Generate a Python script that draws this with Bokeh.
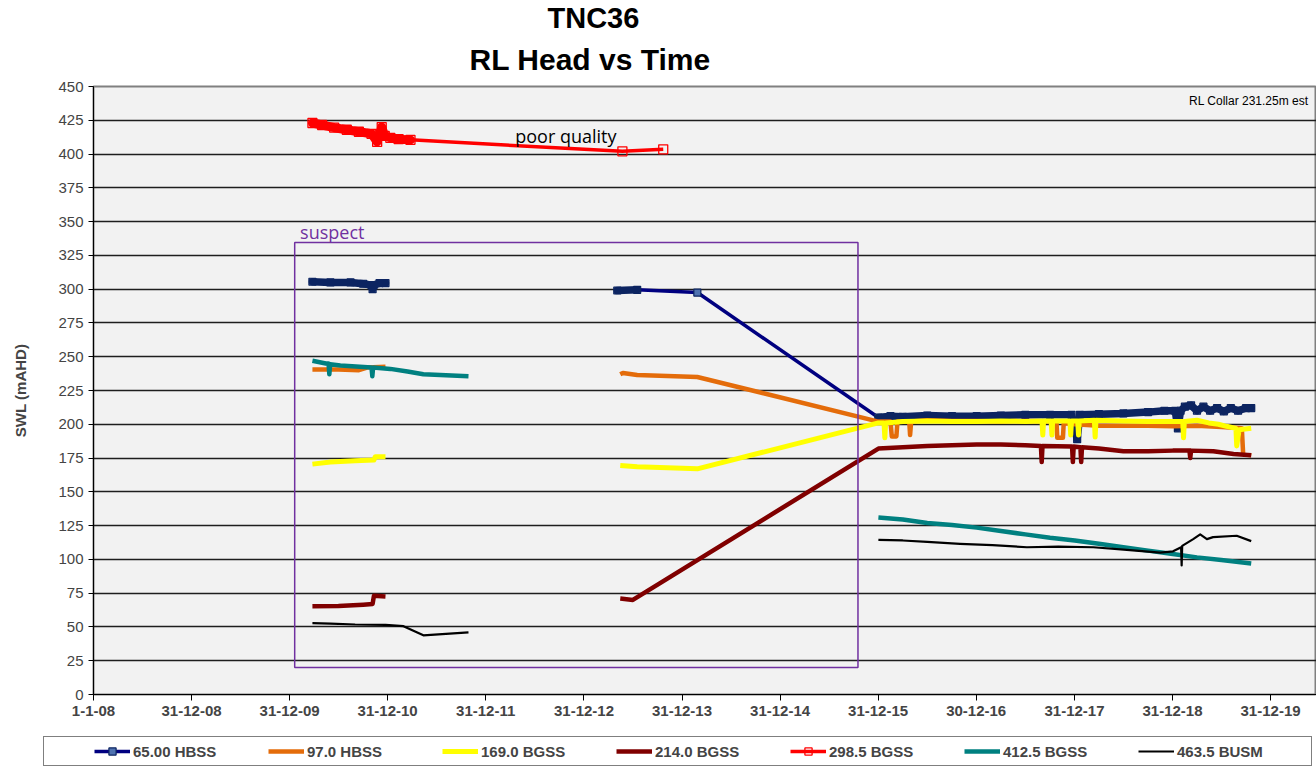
import numpy as np
import pandas as pd
from bokeh.plotting import figure
from bokeh.layouts import column
from bokeh.models import (Range1d, FixedTicker, Legend, LegendItem, Label,
                          BoxAnnotation, Title)
from bokeh.embed import file_html
from bokeh.resources import INLINE

ORIGIN = pd.Timestamp("2008-01-01")

# ---------------- data ----------------
tick_dates = ["2008-01-01", "2008-12-31", "2009-12-31", "2010-12-31", "2011-12-31",
              "2012-12-31", "2013-12-31", "2014-12-31", "2015-12-31", "2016-12-30",
              "2017-12-31", "2018-12-31", "2019-12-31"]
tick_labels = ["1-1-08", "31-12-08", "31-12-09", "31-12-10", "31-12-11", "31-12-12",
               "31-12-13", "31-12-14", "31-12-15", "30-12-16", "31-12-17", "31-12-18",
               "31-12-19"]

series_names = ["65.00 HBSS", "97.0 HBSS", "169.0 BGSS", "214.0 BGSS",
                "298.5 BGSS", "412.5 BGSS", "463.5 BUSM"]

# 65.00 HBSS
navy_2010_d = ["2010-03-26", "2010-06-01", "2010-08-15", "2010-10-01", "2010-11-01",
               "2010-11-05", "2010-11-09", "2010-12-01", "2010-12-23"]
navy_2010_v = [305.5, 305, 305, 304, 303, 300, 303, 304.5, 304.5]
navy_2013_d = ["2013-05-04", "2013-07-17", "2014-02-26"]
navy_2013_v = [299, 299.5, 297.5]
navy_2016_d = ["2016-01-01", "2016-02-15", "2016-04-01", "2016-07-01", "2016-10-01",
               "2017-01-01", "2017-04-01", "2017-07-01", "2017-10-01", "2017-12-20",
               "2018-01-10", "2018-01-20", "2018-04-01", "2018-07-01", "2018-10-01",
               "2018-12-01", "2019-01-10", "2019-01-20", "2019-01-30", "2019-02-15",
               "2019-03-10", "2019-04-01", "2019-04-25", "2019-05-20", "2019-06-15",
               "2019-07-10", "2019-08-05", "2019-09-01", "2019-10-01", "2019-10-20"]
navy_2016_v = [205, 206, 205.5, 206.5, 206, 206, 206.5, 207, 207, 207,
               189, 207, 207.5, 208, 209, 210, 210, 197, 210, 213,
               214, 210, 213, 210, 212, 209.5, 212, 210, 212, 212]

# 97.0 HBSS
orange_2010_d = ["2010-03-26", "2010-07-01", "2010-09-15", "2010-10-15", "2010-12-23"]
orange_2010_v = [240.5, 240.5, 240, 242, 242.5]
orange_2013_d = ["2013-05-15", "2013-05-25", "2013-07-17", "2014-02-26"]
orange_2013_v = [237, 238, 236.5, 235]
orange_2016_d = ["2016-01-01", "2016-02-15", "2016-02-20", "2016-03-08", "2016-03-12",
                 "2016-04-25", "2016-04-28", "2016-05-02", "2016-07-01", "2016-10-01",
                 "2017-01-01", "2017-04-01", "2017-07-01", "2017-10-25", "2017-10-28",
                 "2017-11-18", "2017-11-21", "2018-01-01", "2018-04-01", "2018-07-01",
                 "2018-10-01", "2019-01-01", "2019-04-01", "2019-07-01", "2019-09-15",
                 "2019-09-20", "2019-10-20"]
orange_2016_v = [202, 202, 191, 191, 202, 202, 192, 202, 203, 202.5,
                 202.5, 202, 202.5, 202, 190, 190, 201, 200, 199, 199,
                 199, 198.5, 199, 198, 197, 178, 177]

# 169.0 BGSS
yellow_2010_d = ["2010-03-26", "2010-06-01", "2010-09-01", "2010-11-10", "2010-11-15",
                 "2010-12-23"]
yellow_2010_v = [170.5, 172, 173, 173.5, 176, 176]
yellow_2013_d = ["2013-05-15", "2013-07-17", "2014-02-26"]
yellow_2013_v = [169.5, 168.5, 167]
yellow_2016_d = ["2016-01-01", "2016-01-22", "2016-01-25", "2016-01-28", "2016-04-01",
                 "2016-07-01", "2016-10-01", "2017-01-01", "2017-04-01", "2017-07-01",
                 "2017-09-01", "2017-09-04", "2017-09-07", "2017-10-05", "2017-10-08",
                 "2017-10-11", "2017-12-14", "2017-12-17", "2017-12-20", "2018-01-12",
                 "2018-01-15", "2018-01-18", "2018-03-15", "2018-03-18", "2018-03-21",
                 "2018-07-01", "2018-10-01", "2019-02-07", "2019-02-10", "2019-02-13",
                 "2019-04-01", "2019-05-15", "2019-06-20", "2019-07-20", "2019-08-24",
                 "2019-08-27", "2019-09-05", "2019-10-20"]
yellow_2016_v = [201, 201, 190, 201, 202, 202.5, 202, 202, 202.5, 202,
                 202.5, 192, 202.5, 202.5, 192, 202.5, 202.5, 192, 202.5, 202.5,
                 192, 202.5, 203, 190.5, 203, 202.5, 202, 202, 190, 202,
                 203, 201, 200, 198.5, 197, 184, 196, 197]

# 214.0 BGSS
dred_2010_d = ["2010-03-26", "2010-07-01", "2010-10-01", "2010-11-05", "2010-11-10",
               "2010-12-23"]
dred_2010_v = [65.3, 65.5, 66.5, 67, 73, 72.5]
dred_2013_d = ["2013-05-15", "2013-07-01"]
dred_2013_v = [71, 70]
dred_2016_d = ["2016-01-01", "2016-04-01", "2016-07-01", "2016-10-01", "2017-01-01",
               "2017-04-01", "2017-07-01", "2017-08-28", "2017-08-31", "2017-09-03",
               "2017-12-22", "2017-12-25", "2017-12-28", "2018-01-22", "2018-01-25",
               "2018-01-28", "2018-04-01", "2018-07-01", "2018-10-01", "2019-01-01",
               "2019-03-04", "2019-03-07", "2019-03-10", "2019-06-01", "2019-08-15",
               "2019-10-20"]
dred_2016_v = [182, 183, 184, 184.5, 185, 185, 184.5, 184, 172, 184,
               183.5, 172, 183.5, 183, 172, 183, 182, 180, 180, 180.5,
               180.5, 175, 180.5, 180, 178, 177]

# 298.5 BGSS
red_2010_d = ["2010-03-26", "2010-05-01", "2010-06-15", "2010-08-01", "2010-09-15",
              "2010-11-01", "2010-11-22", "2010-12-01", "2010-12-09", "2010-12-20",
              "2011-01-10", "2011-02-10", "2011-03-26"]
red_2010_v = [423, 421.5, 419.5, 418, 416.5, 415, 409, 414.5, 420, 413.5,
              412, 411, 410.5]
red_2013_d = ["2013-05-23", "2013-10-22"]
red_2013_v = [402, 403.5]

# 412.5 BGSS
teal_2010_d = ["2010-03-26", "2010-05-15", "2010-05-25", "2010-05-28", "2010-05-31",
               "2010-07-08", "2010-11-01", "2010-11-04", "2010-11-07", "2011-01-10",
               "2011-03-15", "2011-05-13", "2011-10-28"]
teal_2010_v = [247, 245, 245, 237, 244.5, 243.5, 242, 235.5, 242, 241,
               239, 237, 235.5]
teal_2016_d = ["2016-01-01", "2016-04-01", "2016-07-01", "2016-10-01", "2017-01-01",
               "2017-04-01", "2017-07-01", "2017-10-01", "2018-01-01", "2018-04-01",
               "2018-07-01", "2018-10-01", "2019-01-01", "2019-04-01", "2019-07-01",
               "2019-10-20"]
teal_2016_v = [131, 129.5, 127, 125.5, 123.5, 121, 118.5, 116, 114, 111.5,
               109, 106.5, 104, 101.5, 99.5, 97]

# 463.5 BUSM
black_2010_d = ["2010-03-26", "2010-06-01", "2010-09-01", "2010-12-23", "2011-02-28",
                "2011-05-13", "2011-10-28"]
black_2010_v = [52.8, 52.5, 51.8, 51.5, 50.6, 43.8, 46]
black_2016_d = ["2016-01-01", "2016-04-01", "2016-07-01", "2016-10-31", "2017-03-01",
                "2017-07-07", "2017-11-01", "2018-03-11", "2018-07-14", "2018-11-15",
                "2019-01-02", "2019-02-01", "2019-02-03", "2019-02-05", "2019-03-18",
                "2019-04-13", "2019-05-08", "2019-05-31", "2019-08-27", "2019-10-20"]
black_2016_v = [114.5, 114, 113, 111.5, 110.5, 109, 109.5, 109, 107, 105,
                106, 109, 95.5, 110, 115, 118.5, 115, 116.5, 117.5, 113.5]

annotation_collar = "RL Collar 231.25m est"
annotation_poor = "poor quality"
annotation_suspect = "suspect"
suspect_box_dates = ["2010-01-19", "2015-10-17"]
suspect_box_values = [20, 334.6]


# ---------------- helpers ----------------
def days(dates):
    return [float((pd.Timestamp(d) - ORIGIN).days) for d in dates]


def joined(*segments):
    """segments: list of (dates, values); consecutive segments separated by a NaN gap"""
    xs, ys = [], []
    for i, (d, v) in enumerate(segments):
        if i > 0:
            xs.append(np.nan)
            ys.append(np.nan)
        xs += days(d)
        ys += list(v)
    return xs, ys


FONT = "Liberation Sans"
NAVY = "#000080"
NAVY_DARK = "#0C2461"
X_END = 4553

STYLES = [
    dict(line_color=NAVY, line_width=3.5),
    dict(line_color="#E46C0A", line_width=4.5),
    dict(line_color="#FFFF00", line_width=5),
    dict(line_color="#800000", line_width=4.5),
    dict(line_color="#FF0000", line_width=3.5),
    dict(line_color="#008080", line_width=4.5),
    dict(line_color="black", line_width=2.2),
]
NAVY_MARK = dict(marker="square", size=7, fill_color="#4F72B0", line_color=NAVY_DARK,
                 line_width=1.2)
RED_MARK = dict(marker="square", size=9, fill_alpha=0, line_color="#FF0000",
                line_width=1.3)

p = figure(width=1316, height=730, output_backend="svg", toolbar_location=None,
           x_range=Range1d(0, X_END), y_range=Range1d(0, 450),
           min_border_left=93, min_border_right=0, min_border_top=86,
           min_border_bottom=36, background_fill_color="#F2F2F2",
           border_fill_color="white", outline_line_color="#808080",
           outline_line_width=2)
p.frame_align = False

# titles (p.title ends farthest from the frame)
p.title.text = "TNC36"
p.title.align = "left"
p.title.offset = 454
p.title.text_font = FONT
p.title.text_font_size = "29px"
p.title.text_font_style = "bold"
p.title.text_color = "black"
p.title.standoff = -9
t2 = Title(text="RL Head vs Time", align="left", offset=376, text_font=FONT,
           text_font_size="30px", text_font_style="bold", text_color="black",
           standoff=22)
p.add_layout(t2, "above")

# axes
tick_days = days(tick_dates)
p.xaxis.ticker = FixedTicker(ticks=tick_days)
p.xaxis.major_label_overrides = {t: lab for t, lab in zip(tick_days, tick_labels)}
p.xaxis.major_label_text_font = FONT
p.xaxis.major_label_text_font_style = "bold"
p.xaxis.major_label_text_font_size = "15px"
p.xaxis.major_tick_out = 6
p.xaxis.major_tick_in = 0
p.xaxis.minor_tick_line_color = None
p.xaxis.axis_line_color = "black"
p.xaxis.major_tick_line_color = "black"

p.yaxis.ticker = FixedTicker(ticks=list(range(0, 451, 25)))
p.yaxis.major_label_text_font = FONT
p.yaxis.major_label_text_font_size = "15px"
p.yaxis.major_tick_out = 5
p.yaxis.major_tick_in = 0
p.yaxis.minor_tick_line_color = None
p.yaxis.axis_label = "SWL (mAHD)"
p.yaxis.axis_label_text_font = FONT
p.yaxis.axis_label_text_font_style = "bold"
p.yaxis.axis_label_text_font_size = "15px"
p.yaxis.axis_label_standoff = 26

p.xgrid.grid_line_color = None
p.ygrid.grid_line_color = "#1e1e1e"
p.ygrid.grid_line_width = 1.6

# suspect box
sb = days(suspect_box_dates)
p.add_layout(BoxAnnotation(left=sb[0], right=sb[1], bottom=suspect_box_values[0],
                           top=suspect_box_values[1], fill_alpha=0,
                           line_color="#7030A0", line_width=1.5, line_alpha=1))

# 65.00 HBSS
x, y = joined((navy_2010_d, navy_2010_v), (navy_2013_d + navy_2016_d, navy_2013_v + navy_2016_v))
p.line(x, y, **STYLES[0])
p.scatter(x, y, **NAVY_MARK)
for d, v in [(navy_2010_d, navy_2010_v), (navy_2013_d[:2], navy_2013_v[:2]),
             (navy_2016_d, navy_2016_v)]:
    p.line(days(d), v, line_color=NAVY_DARK, line_width=7.5, line_join="round",
           line_cap="round")

# 97.0 HBSS
x, y = joined((orange_2010_d, orange_2010_v),
              (orange_2013_d + orange_2016_d, orange_2013_v + orange_2016_v))
p.line(x, y, line_join="round", **STYLES[1])

# 169.0 BGSS
x, y = joined((yellow_2010_d, yellow_2010_v),
              (yellow_2013_d + yellow_2016_d, yellow_2013_v + yellow_2016_v))
p.line(x, y, line_join="round", **STYLES[2])

# 214.0 BGSS
x, y = joined((dred_2010_d, dred_2010_v),
              (dred_2013_d + dred_2016_d, dred_2013_v + dred_2016_v))
p.line(x, y, line_join="round", **STYLES[3])

# 298.5 BGSS
x, y = joined((red_2010_d + red_2013_d, red_2010_v + red_2013_v))
p.line(days(red_2010_d), red_2010_v, line_color="#FF0000", line_width=9,
       line_join="round", line_cap="round")
p.line(x, y, **STYLES[4])
p.scatter(x, y, **RED_MARK)

# 412.5 BGSS
x, y = joined((teal_2010_d, teal_2010_v), (teal_2016_d, teal_2016_v))
p.line(x, y, line_join="round", **STYLES[5])

# 463.5 BUSM
x, y = joined((black_2010_d, black_2010_v), (black_2016_d, black_2016_v))
p.line(x, y, line_join="round", **STYLES[6])

# text annotations
p.add_layout(Label(x=X_END, y=439, x_offset=-8, text=annotation_collar,
                   text_align="right", text_baseline="middle", text_font=FONT,
                   text_font_size="12px", text_color="black"))
p.add_layout(Label(x=days(["2012-04-19"])[0], y=413, text=annotation_poor,
                   text_baseline="middle", text_font="Open Sans",
                   text_font_size="18px", text_color="black"))
p.add_layout(Label(x=days(["2010-02-08"])[0], y=342, text=annotation_suspect,
                   text_baseline="middle", text_font="Open Sans",
                   text_font_size="18px", text_color="#7030A0"))

# ---------------- legend strip ----------------
leg = figure(width=1316, height=37, output_backend="svg", toolbar_location=None,
             x_range=Range1d(0, 1), y_range=Range1d(0, 1), x_axis_location=None,
             y_axis_location=None, min_border=0, outline_line_color=None,
             background_fill_color="white", border_fill_color="white")
leg.frame_align = False
leg.xgrid.visible = False
leg.ygrid.visible = False
items = []
off = [-5, -4]  # legend-only sample glyphs, kept outside the strip's visible range
for i, name in enumerate(series_names):
    rs = [leg.line(off, off, **STYLES[i])]
    if i == 0:
        rs.append(leg.scatter(off, off, **NAVY_MARK))
    if i == 4:
        rs.append(leg.scatter(off, off, **RED_MARK))
    items.append(LegendItem(label=name, renderers=rs))

legend = Legend(items=items, orientation="horizontal", location=(43, 1),
                label_text_font=FONT, label_text_font_style="bold",
                label_text_font_size="15px", glyph_width=36, glyph_height=18,
                label_height=18, label_width=129, label_standoff=3, spacing=6,
                padding=5, margin=0, border_line_color="black", border_line_width=1.5,
                background_fill_color="white", background_fill_alpha=1)
if "title_location" in Legend.properties():
    # a blank title on the left gives the items their left inset inside the box
    legend.title = " "
    legend.title_location = "left"
    legend.title_standoff = 30
    legend.title_text_font_size = "13px"
    legend.label_width = 129
leg.add_layout(legend, "center")

layout = column(p, leg, spacing=0)
open("out.html", "w").write(file_html(layout, INLINE))
